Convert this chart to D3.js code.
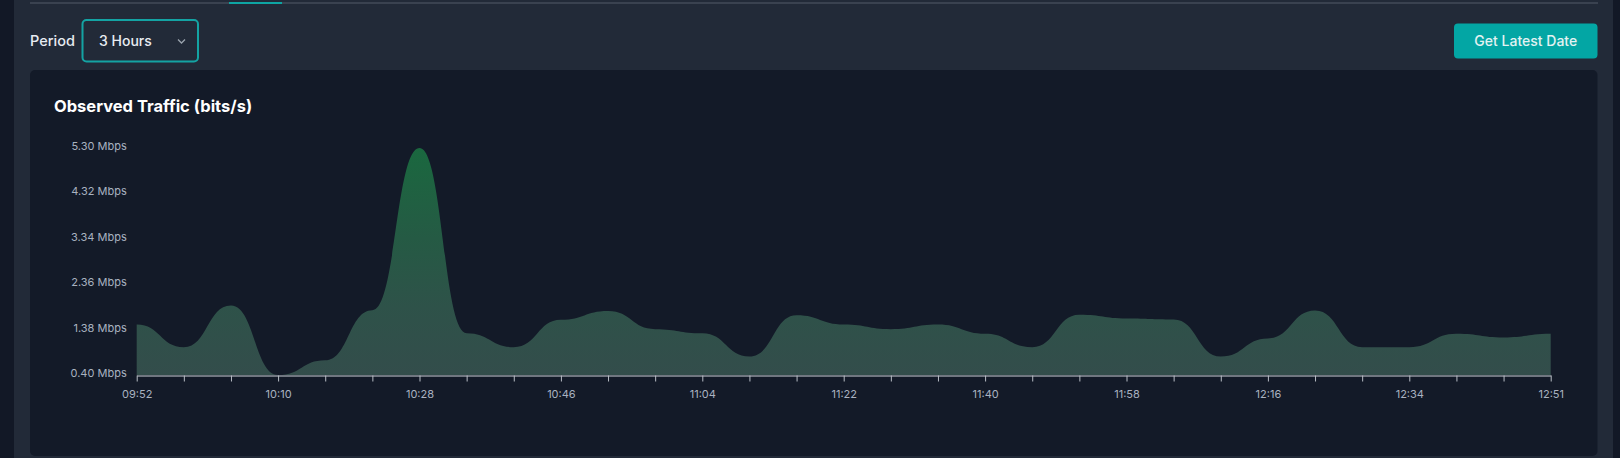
<!DOCTYPE html>
<html><head><meta charset="utf-8">
<script src="https://cdn.jsdelivr.net/npm/d3@7"></script>
<style>
html,body{margin:0;padding:0;background:#121826;width:1620px;height:458px;overflow:hidden;}
svg{display:block;font-family:Inter,"Noto Sans",sans-serif;}
</style></head><body><svg id="c" width="1620" height="458"></svg>
<script>
// ---- data ----
const times = ["09:52","09:58","10:04","10:10","10:16","10:22","10:28","10:34","10:40","10:46",
  "10:52","10:58","11:04","11:10","11:16","11:22","11:28","11:34","11:40","11:46",
  "11:52","11:58","12:04","12:10","12:16","12:22","12:28","12:34","12:40","12:45","12:51"];
const traffic = [1.49,1.00,1.90,0.40,0.72,1.80,5.30,1.30,1.00,1.59,
  1.78,1.39,1.30,0.80,1.69,1.49,1.39,1.49,1.29,1.00,
  1.70,1.62,1.60,0.80,1.19,1.79,1.00,1.00,1.29,1.21,1.29];
const yTicks = [0.40,1.38,2.36,3.34,4.32,5.30];
const labelEvery = 3;
const title = "Observed Traffic (bits/s)";
const periodLabel = "Period";
const periodValue = "3 Hours";
const buttonLabel = "Get Latest Date";

const svg = d3.select("#c");

// panel background
svg.append("rect").attr("x",14).attr("y",0).attr("width",1599).attr("height",458).attr("fill","#222a38");
// tab underline
svg.append("rect").attr("x",30).attr("y",2).attr("width",1568).attr("height",2).attr("fill","#3a4250");
svg.append("rect").attr("x",229).attr("y",2).attr("width",53).attr("height",2).attr("fill","#0ea5a3");

// Period label
svg.append("text").attr("x",30).attr("y",46).attr("fill","#e8ecf2").attr("font-size",14.5).attr("font-weight",500).text(periodLabel);
// dropdown
svg.append("rect").attr("x",82.5).attr("y",20).attr("width",115.5).attr("height",41.5).attr("rx",4)
  .attr("fill","none").attr("stroke","#14a3a3").attr("stroke-width",2);
svg.append("text").attr("x",99).attr("y",46).attr("fill","#e8ecf2").attr("font-size",14).attr("font-weight",500).text(periodValue);
svg.append("path").attr("d","M178,39.5 L181.5,43 L185,39.5").attr("fill","none").attr("stroke","#9aa3ad").attr("stroke-width",1.3);

// button
svg.append("rect").attr("x",1454).attr("y",23.5).attr("width",143.5).attr("height",35).attr("rx",4).attr("fill","#03a6a4");
svg.append("text").attr("x",1525.8).attr("y",46).attr("text-anchor","middle").attr("fill","#e3f2f2")
  .attr("font-size",14).attr("font-weight",500).text(buttonLabel);

// card
svg.append("rect").attr("x",30).attr("y",70).attr("width",1567.5).attr("height",386).attr("rx",5).attr("fill","#131a28");
svg.append("text").attr("x",54).attr("y",111.5).attr("fill","#ffffff").attr("font-size",16.5).attr("font-weight",700).text(title);

// scales
const x = d3.scalePoint().domain(times).range([136.7,1550.7]);
const y = d3.scaleLinear().domain([0.40,5.30]).range([375,148]);

// gradient
const defs = svg.append("defs");
const grad = defs.append("linearGradient").attr("id","g").attr("gradientUnits","userSpaceOnUse")
  .attr("x1",0).attr("x2",0).attr("y1",y(5.30)).attr("y2",y(0.40));
grad.append("stop").attr("offset","0%").attr("stop-color","#1a683f");
grad.append("stop").attr("offset","40%").attr("stop-color","#255a44");
grad.append("stop").attr("offset","70%").attr("stop-color","#2e5249");
grad.append("stop").attr("offset","100%").attr("stop-color","#334d4b");

const area = d3.area()
  .x((d,i)=>x(times[i]))
  .y0(y(0.40))
  .y1(d=>y(d))
  .curve(d3.curveBumpX);
svg.append("path").datum(traffic).attr("d",area).attr("fill","url(#g)");

// x axis
const xa = svg.append("g").attr("transform","translate(0,375.5)")
  .call(d3.axisBottom(x).tickSize(6).tickSizeOuter(0).tickPadding(9)
    .tickFormat((d,i)=> i%labelEvery===0 ? d : ""));
xa.select(".domain").attr("stroke","#cfd3d9");
xa.selectAll(".tick line").attr("stroke","#b9bec6");
xa.selectAll(".tick text").attr("fill","#a9b2c0").attr("font-size",11).attr("font-family","Inter,'Noto Sans',sans-serif");

// y axis
const ya = svg.append("g").attr("transform","translate(136.7,-2)")
  .call(d3.axisLeft(y).tickValues(yTicks).tickSize(0).tickPadding(10)
    .tickFormat(d=>d.toFixed(2)+" Mbps"));
ya.select(".domain").remove();
ya.selectAll(".tick text").attr("fill","#a9b2c0").attr("font-size",11).attr("font-family","Inter,'Noto Sans',sans-serif");
</script>
</body></html>
